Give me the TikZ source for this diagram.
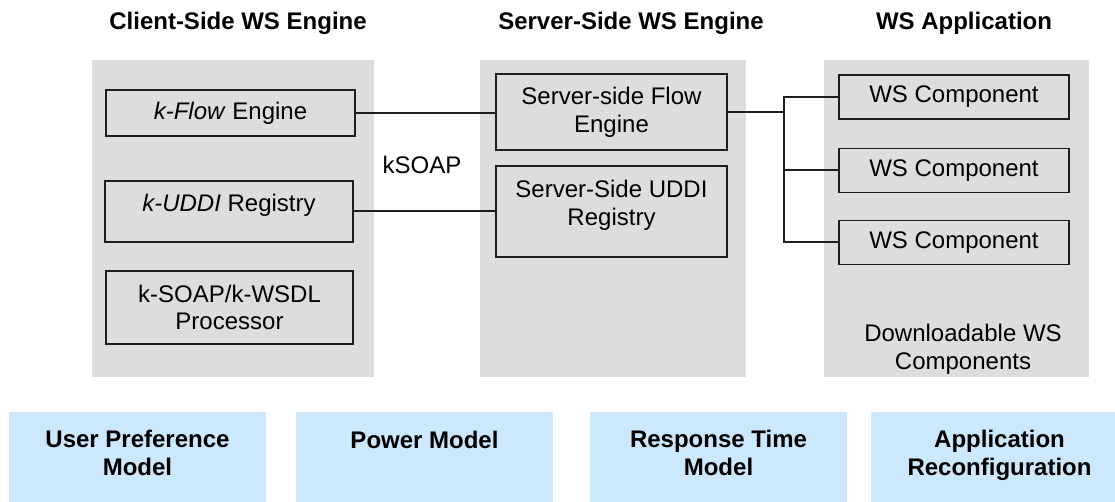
\documentclass[tikz,border=0pt]{standalone}
\usepackage{fontspec}
\setmainfont{Liberation Sans}
\usepackage{tikz}
\usetikzlibrary{positioning}
\definecolor{grispanel}{RGB}{221,221,221}
\definecolor{celeste}{RGB}{204,232,252}
\definecolor{bordecaja}{RGB}{30,30,30}

\begin{document}
\begin{tikzpicture}[
			x=0.5pt, y=-0.5pt,
			node distance = 14pt and 20pt,
			every node/.style = {
				align=center,
				inner sep=0pt,
				font=\fontsize{12pt}{13.8pt}\selectfont
			},
			panel/.style = {
				fill=grispanel,
				minimum height=158.5pt
			},
			caja/.style = {
				draw=bordecaja,
				line width=0.6pt,
				fill=grispanel
			},
			titulo/.style = {
				font=\fontsize{12pt}{13.8pt}\selectfont\bfseries
			},
			modelo/.style = {
				fill=celeste,
				minimum width=128.5pt,
				minimum height=46pt,
				text height=23pt,
				text depth=5pt,
				font=\fontsize{12pt}{14.2pt}\selectfont\bfseries
			},
			cable/.style = {
				draw=bordecaja,
				line width=1pt
			}
			]
			
			\useasboundingbox (0,0) rectangle (1115,502);
			
			\node[panel, minimum width=141pt] (cliente) at (233,218.5) {};
			\node[panel, minimum width=133pt] (servidor) at (613,218.5) {};
			\node[panel, minimum width=132.5pt] (aplic) at (956.5,218.5) {};
			
			\node[titulo] (tcliente) at (238,23) {Client-Side WS Engine};
			\node[titulo] (tservidor) at (631,23) {Server-Side WS Engine};
			\node[titulo] (taplic) at (964,23) {WS Application};
			
			\node[caja, minimum width=124.5pt, minimum height=23pt] (kflow) at (230.5,113) {\textit{k-Flow} Engine};
			\node[caja, minimum width=124pt, minimum height=30.5pt, text height=8.8pt, text depth=9pt] (kuddi) at (229,211.5) {\textit{k-UDDI} Registry};
			\node[caja, minimum width=123.5pt, minimum height=36.5pt] (ksoap) at (229.5,307.5) {k-SOAP/k-WSDL\\Processor};
			
			\node[caja, minimum width=115.5pt, minimum height=38pt] (sflow) at (611.5,112) {Server-side Flow\\Engine};
			\node[caja, minimum width=115.5pt, minimum height=45.5pt, text height=22.6pt, text depth=8.8pt] (suddi) at (611.5,211.5) {Server-Side UDDI\\Registry};
			
			\node[caja, minimum width=115pt, minimum height=22pt] (ws1) at (954,97) {WS Component};
			\node[caja, minimum width=115pt, minimum height=22pt, below=14pt of ws1] (ws2) {WS Component};
			\node[caja, minimum width=115pt, minimum height=22pt, below=13.5pt of ws2] (ws3) {WS Component};
			
			\node (descarga) at (963,349) {Downloadable WS\\Components};
			\node (ksoaplbl) at (422,165) {kSOAP};
			
			\draw[cable] (kflow.east) -- (kflow.east -| sflow.west);
			\draw[cable] (kuddi.east) -- (kuddi.east -| suddi.west);
			\coordinate[right=28pt of sflow.east] (bus);
			\draw[cable] (sflow.east) -- (bus);
			\foreach \c in {ws1,ws2,ws3}
				\draw[cable] (\c.west) -| (bus);
			
			\node[modelo] (upref) at (137.5,458) {User Preference\\Model};
			\node[modelo, text height=8.8pt, text depth=18.2pt] (power) at (424.5,458) {Power Model};
			\node[modelo] (resp) at (718.5,458) {Response Time\\Model};
			\node[modelo] (reconf) at (999.5,458) {Application\\Reconfiguration};
			
		\end{tikzpicture}
\end{document}
